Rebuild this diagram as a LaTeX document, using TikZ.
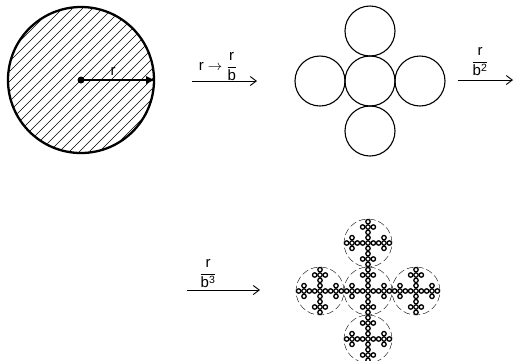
\documentclass[tikz,border=0pt]{standalone}
\usepackage{fontspec}
\setsansfont{Liberation Sans}
\usetikzlibrary{arrows.meta}
\begin{document}
\begin{tikzpicture}[x=1pt,y=-1pt,
  arr/.style={line width=0.9pt,-{Straight Barb[length=6pt,width=9pt,line width=0.9pt]}},
  disc/.style={circle,draw,line width=1.1pt,minimum size=50pt,inner sep=0pt},
  dcirc/.style={circle,draw,line width=0.4pt,dash pattern=on 7pt off 3pt,minimum size=48pt,inner sep=0pt},
  lab/.style={font=\sffamily\fontsize{15}{17}\selectfont,inner sep=0pt,anchor=base}]
\useasboundingbox (0,0) rectangle (515,360);
% big hatched circle
\begin{scope}
  \clip (81,80) circle (72);
  \foreach \k in {-18,...,18}
    \draw[line width=0.5pt] ({81+\k*10-110},{80+110}) -- ({81+\k*10+110},{80-110});
\end{scope}
\node[circle,draw,line width=2.3pt,minimum size=146pt,inner sep=0pt] (big) at (81,80) {};
\node[circle,fill,inner sep=0pt,minimum size=7pt] (ctr) at (81,80) {};
\draw[line width=1.1pt,-{Latex[length=9pt,width=8pt]}] (ctr.center) -- (big.east);
\node[lab] (rl) at (113,75) {r};
% first arrow
\coordinate (a1s) at (192,81);
\coordinate (a1e) at (257,81);
\draw[arr] (a1s) -- (a1e);
\node[lab] (l1) at (218,70.5) {$\mathsf{r}\rightarrow{\displaystyle\frac{\mathsf{r}}{\mathsf{b}}}$};
% five circles
\node[disc] (c0) at (370,81) {};
\node[disc] (cN) at (370,31) {};
\node[disc] (cS) at (370,131) {};
\node[disc] (cW) at (320,81) {};
\node[disc] (cE) at (420,81) {};
% second arrow
\coordinate (a2s) at (458,80);
\coordinate (a2e) at (513,80);
\draw[arr] (a2s) -- (a2e);
\node[lab] (l2) at (480,65.5) {$\displaystyle\frac{\mathsf{r}}{\mathsf{b}^{\mathsf{2}}}$};
% third arrow
\coordinate (a3s) at (187,290);
\coordinate (a3e) at (260,290);
\draw[arr] (a3s) -- (a3e);
\node[lab] (l3) at (208,277.5) {$\displaystyle\frac{\mathsf{r}}{\mathsf{b}^{\mathsf{3}}}$};
% fractal
\foreach \ax/\ay/\nm in {0/0/C,48/0/E,-48/0/W,0/48/S,0/-48/N} {
  \node[dcirc] (f\nm) at ({368+\ax},{291+\ay}) {};
  \foreach \bx/\by in {0/0,16/0,-16/0,0/16,0/-16}
    \foreach \cx/\cy in {0/0,5.333/0,-5.333/0,0/5.333,0/-5.333}
      \draw[line width=1.3pt] ({368+\ax+\bx+\cx},{291+\ay+\by+\cy}) circle (2.2);
}
\end{tikzpicture}
\end{document}
